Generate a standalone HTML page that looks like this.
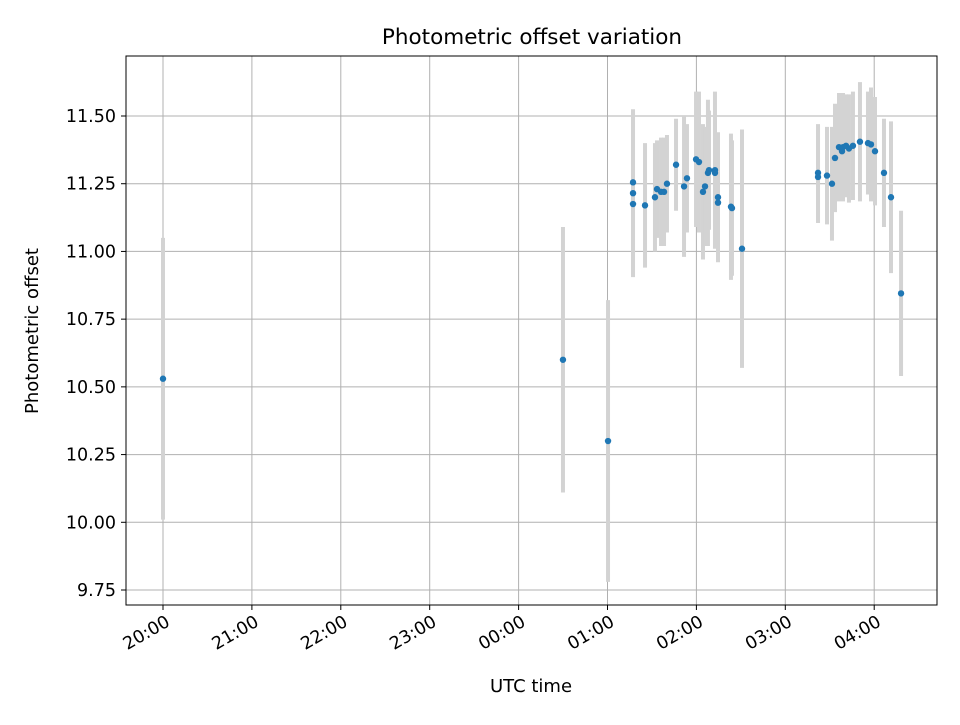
<!DOCTYPE html>
<html><head><meta charset="utf-8"><style>
body{margin:0;background:#fff}
svg text{font-family:"DejaVu Sans","Liberation Sans",sans-serif;fill:#000}
</style></head><body>
<svg id="chart" width="960" height="720" xmlns="http://www.w3.org/2000/svg">
<rect width="960" height="720" fill="#fff"/>
<text x="532" y="44" font-size="21.5" text-anchor="middle">Photometric offset variation</text>
<g id="grid"></g><g id="bars"></g><g id="pts"></g><g id="ticks"></g>
<rect x="126" y="56" width="811" height="549" fill="none" stroke="#000" stroke-width="1"/>
<text x="531" y="692" font-size="18" text-anchor="middle">UTC time</text>
<text transform="translate(38,331) rotate(-90)" font-size="18" text-anchor="middle">Photometric offset</text>
</svg>
<script>
// hours since 20:00 UTC
const times=[0,4.499,5.006,5.287,5.287,5.287,5.422,5.534,5.557,5.602,5.636,5.669,5.771,5.861,5.894,5.996,6.029,6.074,6.097,6.130,6.142,6.209,6.209,6.243,6.243,6.389,6.400,6.513,7.368,7.368,7.469,7.525,7.559,7.604,7.638,7.649,7.683,7.716,7.761,7.840,7.930,7.964,8.009,8.110,8.189,8.302];
const values=[10.53,10.60,10.30,11.255,11.215,11.175,11.17,11.20,11.23,11.22,11.22,11.25,11.32,11.24,11.27,11.34,11.33,11.22,11.24,11.29,11.30,11.30,11.29,11.20,11.18,11.165,11.16,11.01,11.29,11.275,11.28,11.25,11.345,11.385,11.37,11.385,11.39,11.38,11.39,11.405,11.40,11.395,11.37,11.29,11.20,10.845];
const errors=[0.52,0.49,0.52,0.27,0.3,0.27,0.23,0.2,0.18,0.2,0.2,0.18,0.17,0.26,0.2,0.25,0.26,0.25,0.22,0.27,0.22,0.29,0.2,0.24,0.2,0.27,0.25,0.44,0.18,0.17,0.18,0.21,0.2,0.2,0.18,0.2,0.19,0.2,0.2,0.22,0.19,0.21,0.2,0.2,0.28,0.305];
const yTicks=[9.75,10.00,10.25,10.50,10.75,11.00,11.25,11.50];
const xTickHours=[0,1,2,3,4,5,6,7,8];
const xTickLabels=["20:00","21:00","22:00","23:00","00:00","01:00","02:00","03:00","04:00"];
const X=h=>163+h*88.9, Y=v=>116+(11.5-v)*270.86;
const NS="http://www.w3.org/2000/svg";
function mk(t,p,a){const e=document.createElementNS(NS,t);for(const k in a)e.setAttribute(k,a[k]);p.appendChild(e);return e;}
const g=document.getElementById('grid'),b=document.getElementById('bars'),p=document.getElementById('pts'),tk=document.getElementById('ticks');
yTicks.forEach(v=>{
 const l=mk('line',g,{x1:126,x2:937,y1:Y(v),y2:Y(v),stroke:'#b0b0b0','stroke-width':1});
 
 
 mk('line',tk,{x1:121,x2:126,y1:Y(v),y2:Y(v),stroke:'#000'});
 const t=mk('text',tk,{x:116,y:Y(v)+6,'font-size':17.5,'text-anchor':'end'});t.textContent=v.toFixed(2);
 
 
});
xTickHours.forEach((h,i)=>{
 const l=mk('line',g,{x1:X(h),x2:X(h),y1:56,y2:605,stroke:'#b0b0b0','stroke-width':1});
 
 
 mk('line',tk,{x1:X(h),x2:X(h),y1:605,y2:610,stroke:'#000'});
 const t=mk('text',tk,{transform:`translate(${X(h)+8},${625}) rotate(-30)`,'font-size':17.5,'text-anchor':'end'});t.textContent=xTickLabels[i];
 
 
});
times.forEach((h,i)=>{
 const l=mk('line',b,{x1:X(h),x2:X(h),y1:Y(values[i]+errors[i]),y2:Y(values[i]-errors[i]),stroke:'#d3d3d3','stroke-width':4});
 
 
 const c=mk('circle',p,{cx:X(h),cy:Y(values[i]),r:3.2,fill:'#1f77b4'});
 
 
});
</script>
</body></html>
